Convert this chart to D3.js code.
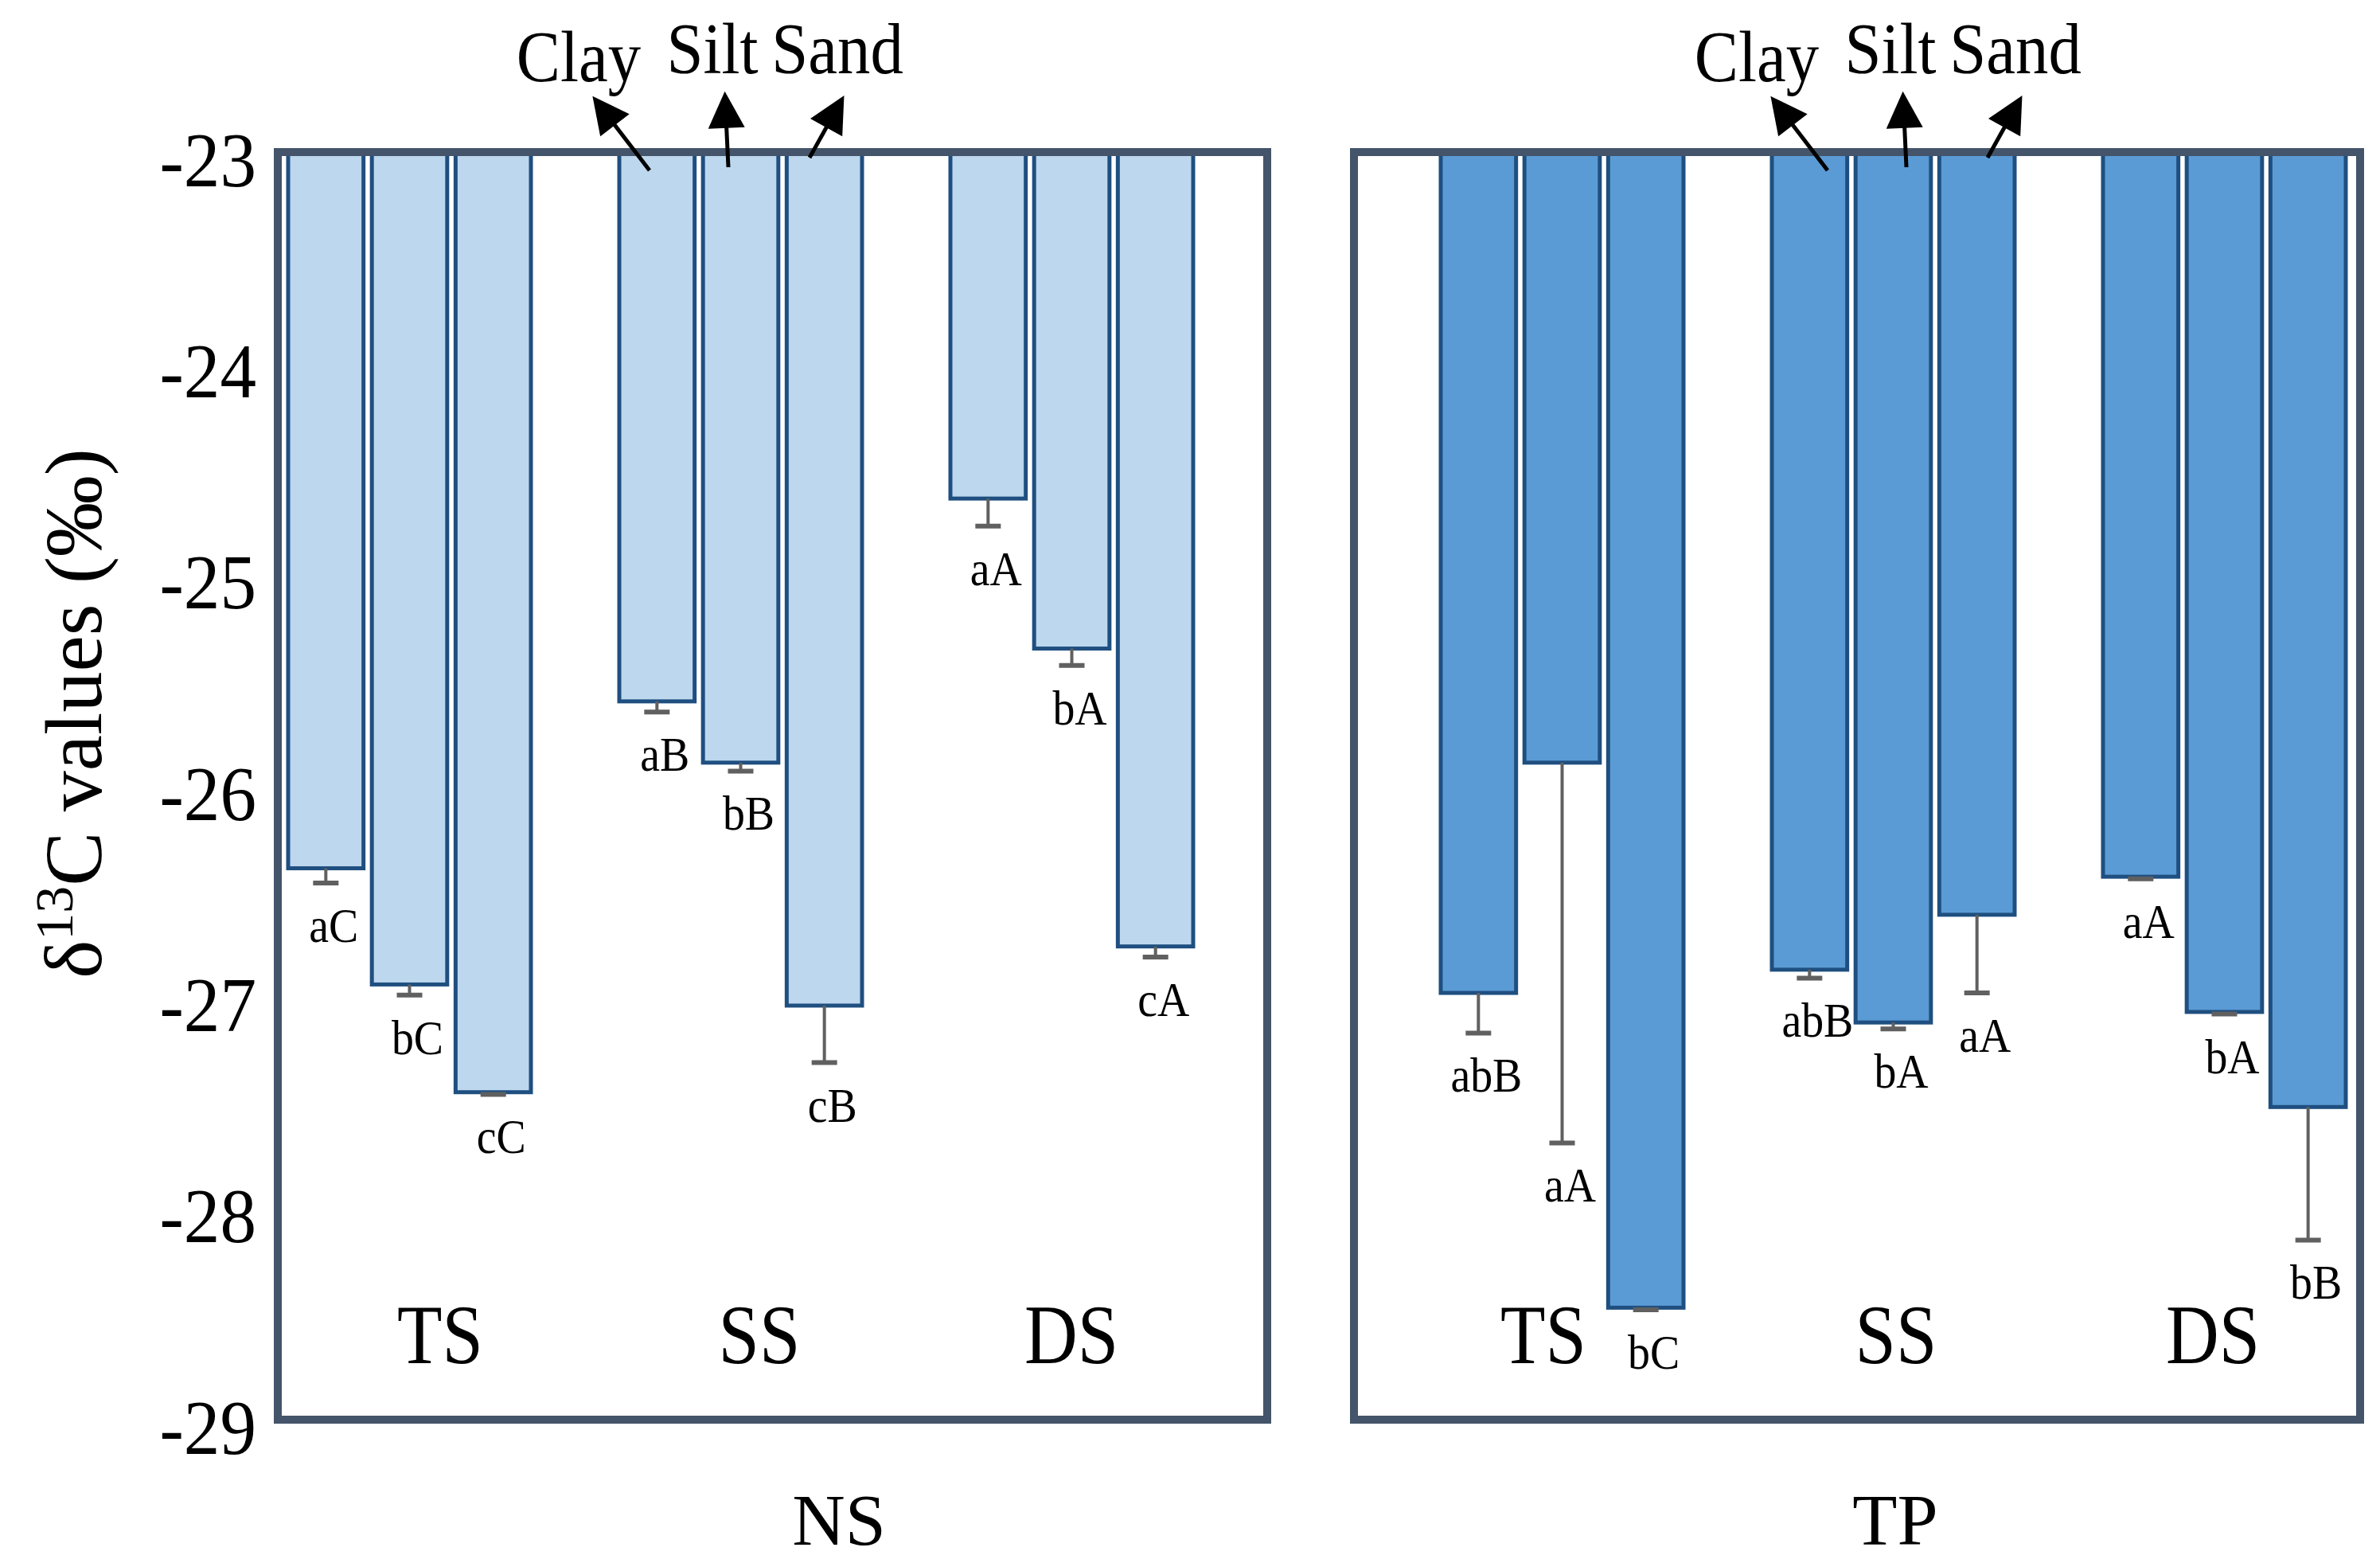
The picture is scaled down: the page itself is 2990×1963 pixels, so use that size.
<!DOCTYPE html>
<html>
<head>
<meta charset="utf-8">
<script src="https://cdn.jsdelivr.net/npm/d3@7"></script>
<style>
  body { margin: 0; background: #fff; }
  svg { display: block; }
</style>
</head>
<body>
<div id="chart"></div>
<script>
// data
const groups = ["TS", "SS", "DS"];
const soils = ["Clay", "Silt", "Sand"];
const yTicks = [-23, -24, -25, -26, -27, -28, -29];

const nsMeans = [[-26.39, -26.94, -27.45], [-25.60, -25.89, -27.04], [-24.64, -25.35, -26.76]];
const nsErr = [[0.07, 0.05, 0.01], [0.05, 0.04, 0.27], [0.13, 0.08, 0.05]];
const nsLetters = [["aC", "bC", "cC"], ["aB", "bB", "cB"], ["aA", "bA", "cA"]];

const tpMeans = [[-26.98, -25.89, -28.47], [-26.87, -27.12, -26.61], [-26.43, -27.07, -27.52]];
const tpErr = [[0.19, 1.80, 0.01], [0.04, 0.03, 0.37], [0.01, 0.01, 0.63]];
const tpLetters = [["abB", "aA", "bC"], ["abB", "bA", "aA"], ["aA", "bA", "bB"]];

const W = 2990, H = 1963;
const plotTop = 191, plotBottom = 1783;
const font = "'Liberation Serif', 'Times New Roman', serif";

const svg = d3.select('#chart').append('svg')
    .attr('width', W).attr('height', H)
    .style('font-family', font);

svg.append('rect').attr('width', W).attr('height', H).attr('fill', '#fff');

const y = d3.scaleLinear().domain([-23, -29]).range([plotTop, plotBottom]);

// the figure's Times face is a bit narrow, so squeeze text horizontally
function narrow(sel, x, yy, sx) {
    return sel.attr('transform', (d, i) =>
        `translate(${typeof x === 'function' ? x(d, i) : x},${typeof yy === 'function' ? yy(d, i) : yy}) scale(${sx},1)`);
}

// arrow head
svg.append('defs').append('marker')
    .attr('id', 'head')
    .attr('viewBox', '0 0 10 10')
    .attr('refX', 8).attr('refY', 5)
    .attr('markerUnits', 'userSpaceOnUse')
    .attr('markerWidth', 48).attr('markerHeight', 46)
    .attr('orient', 'auto')
    .append('path').attr('d', 'M0,0 L10,5 L0,10 Z').attr('fill', '#000');

const panels = [
    { name: "NS", left: 349, right: 1592, start: 362, fill: "#bdd7ee",
      means: nsMeans, err: nsErr, letters: nsLetters, labelAt: [553, 954, 1346], annShift: 0, titleX: 1054 },
    { name: "TP", left: 1701, right: 2965, start: 1810, fill: "#5b9bd5",
      means: tpMeans, err: tpErr, letters: tpLetters, labelAt: [1939, 2382, 2780], annShift: 128, titleX: 2381 }
];

const groupStep = 416;

panels.forEach(p => {
    const g = svg.append('g');

    const xGroup = d3.scaleBand().domain(groups)
        .range([p.start, p.start + groupStep * groups.length]);
    const xSoil = d3.scaleBand().domain(soils)
        .range([0, 305]).paddingInner(0.1).paddingOuter(0);
    const xLabel = d3.scaleOrdinal().domain(groups).range(p.labelAt);

    const rows = [];
    groups.forEach((gr, i) => soils.forEach((s, j) => {
        rows.push({ group: gr, soil: s, mean: p.means[i][j], err: p.err[i][j], letter: p.letters[i][j] });
    }));

    // bars hang down from -23
    g.selectAll('rect.bar').data(rows).enter().append('rect')
        .attr('class', 'bar')
        .attr('x', d => xGroup(d.group) + xSoil(d.soil))
        .attr('y', y(-23))
        .attr('width', xSoil.bandwidth())
        .attr('height', d => y(d.mean) - y(-23))
        .attr('fill', p.fill)
        .attr('stroke', '#1f4f80')
        .attr('stroke-width', 5);

    const cx = d => xGroup(d.group) + xSoil(d.soil) + xSoil.bandwidth() / 2;

    // error bars
    g.selectAll('line.err').data(rows).enter().append('line')
        .attr('x1', cx).attr('x2', cx)
        .attr('y1', d => y(d.mean)).attr('y2', d => y(d.mean - d.err))
        .attr('stroke', '#606060').attr('stroke-width', 4);
    g.selectAll('line.cap').data(rows).enter().append('line')
        .attr('x1', d => cx(d) - 16).attr('x2', d => cx(d) + 16)
        .attr('y1', d => y(d.mean - d.err)).attr('y2', d => y(d.mean - d.err))
        .attr('stroke', '#606060').attr('stroke-width', 6);

    // significance letters
    narrow(g.selectAll('text.letter').data(rows).enter().append('text'),
            d => cx(d) + 10, d => y(d.mean - d.err) + 74, 0.9)
        .attr('text-anchor', 'middle')
        .attr('font-size', 62)
        .text(d => d.letter);

    // group labels
    narrow(g.selectAll('text.grp').data(groups).enter().append('text'),
            d => xLabel(d), 1712, 0.88)
        .attr('text-anchor', 'middle')
        .attr('font-size', 105)
        .text(d => d);

    // frame
    g.append('rect')
        .attr('x', p.left).attr('y', plotTop)
        .attr('width', p.right - p.left).attr('height', plotBottom - plotTop)
        .attr('fill', 'none').attr('stroke', '#44546a').attr('stroke-width', 10);

    // panel title
    svg.append('text')
        .attr('x', p.titleX).attr('y', 1940)
        .attr('text-anchor', 'middle')
        .attr('font-size', 92)
        .text(p.name);

    // Clay / Silt / Sand pointers
    const ann = [
        { text: "Clay", tx: 378, ty: 102, x1: 467, y1: 214, x2: 401, y2: 128 },
        { text: "Silt", tx: 546, ty: 92, x1: 566, y1: 210, x2: 562, y2: 124 },
        { text: "Sand", tx: 703, ty: 92, x1: 668, y1: 198, x2: 707, y2: 128 }
    ];
    const a = svg.append('g').attr('transform', `translate(${p.left + p.annShift},0)`);
    a.selectAll('line').data(ann).enter().append('line')
        .attr('x1', d => d.x1).attr('y1', d => d.y1)
        .attr('x2', d => d.x2).attr('y2', d => d.y2)
        .attr('stroke', '#000').attr('stroke-width', 5)
        .attr('marker-end', 'url(#head)');
    narrow(a.selectAll('text').data(ann).enter().append('text'),
            d => d.tx, d => d.ty, 0.92)
        .attr('text-anchor', 'middle')
        .attr('font-size', 90)
        .text(d => d.text);
});

// y axis labels (no tick marks)
const yAxis = d3.axisLeft(y).tickValues(yTicks).tickSize(0).tickPadding(0)
    .tickFormat(d => String(d));
svg.append('g')
    .attr('transform', 'translate(322,0)')
    .call(yAxis)
    .call(s => s.select('.domain').remove())
    .call(s => s.selectAll('text')
        .attr('x', 0)
        .attr('transform', 'scale(0.93,1)')
        .attr('font-family', font).attr('font-size', 98).attr('fill', '#000').attr('dy', '0.43em'));

// y axis title
const yt = svg.append('text')
    .attr('transform', 'translate(127,896) rotate(-90)')
    .attr('text-anchor', 'middle')
    .attr('font-size', 102);
yt.append('tspan').text('δ');
yt.append('tspan').attr('font-size', 68).attr('dy', -36).text('13');
yt.append('tspan').attr('dy', 36).text('C values (‰)');
</script>
</body>
</html>
